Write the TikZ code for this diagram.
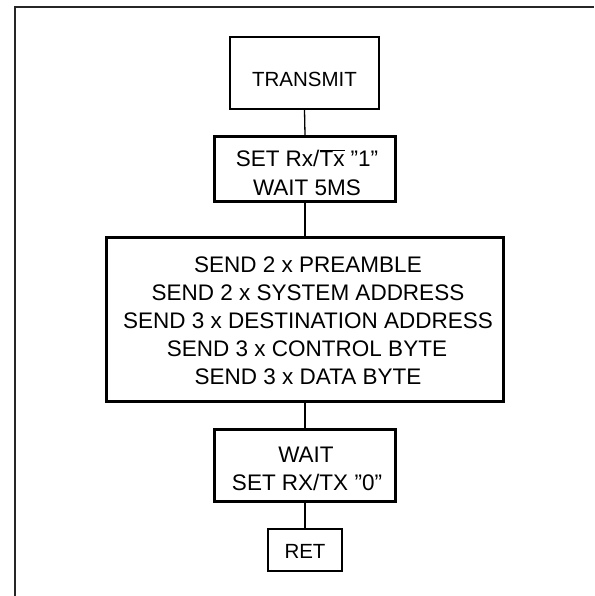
\documentclass[tikz,border=0pt]{standalone}
\usepackage{fontspec}
\setmainfont{Liberation Sans}
\begin{document}
\begin{tikzpicture}[x=1pt,y=-1pt,
  box/.style={draw, rectangle, line width=3pt, inner sep=0pt},
  thinbox/.style={box, line width=2pt},
  link/.style={line width=1.3pt},
  lbl/.style={anchor=base, inner sep=0pt, font=\fontsize{22.5}{28}\selectfont},
  sml/.style={anchor=base, inner sep=0pt, font=\fontsize{20.5}{24}\selectfont},
  frame/.style={line width=1.3pt, black!85}]
\useasboundingbox (0,0) rectangle (594,596);
\draw[frame] (15,596) -- (15,7) -- (594,7);

% boxes
\node[thinbox, minimum width=149pt, minimum height=72pt] (tr) at (304.5,73) {};
\node[box, minimum width=181pt, minimum height=65pt] (set) at (305,169) {};
\node[box, minimum width=397pt, minimum height=164pt] (send) at (305,319.5) {};
\node[box, minimum width=181pt, minimum height=72pt] (wait) at (305,465.5) {};
\node[thinbox, minimum width=74pt, minimum height=42pt] (ret) at (305,550) {};

% texts
\node[sml] (trt) at (304.5,87) {TRANSMIT};
\node[lbl] (set1) at (307,167) {SET Rx/$\overline{\mbox{Tx}}$ ”1”};
\node[lbl] (set2) at (307,195) {WAIT 5MS};
\node[lbl] (s1) at (308,272.5) {SEND 2 x PREAMBLE};
\node[lbl] (s2) at (308,300.5) {SEND 2 x SYSTEM ADDRESS};
\node[lbl] (s3) at (308,328.5) {SEND 3 x DESTINATION ADDRESS};
\node[lbl] (s4) at (307,356.5) {SEND 3 x CONTROL BYTE};
\node[lbl] (s5) at (308,384.5) {SEND 3 x DATA BYTE};
\node[lbl] (w1) at (306,462) {WAIT};
\node[lbl] (w2) at (307,490) {SET RX/TX ”0”};
\node[sml] (rt) at (305,558) {RET};

% connectors
\draw[link] (tr.south) -- (set.north);
\draw[link] (set.south) -- (send.north);
\draw[link] (send.south) -- (wait.north);
\draw[link] (wait.south) -- (ret.north);
\end{tikzpicture}
\end{document}
